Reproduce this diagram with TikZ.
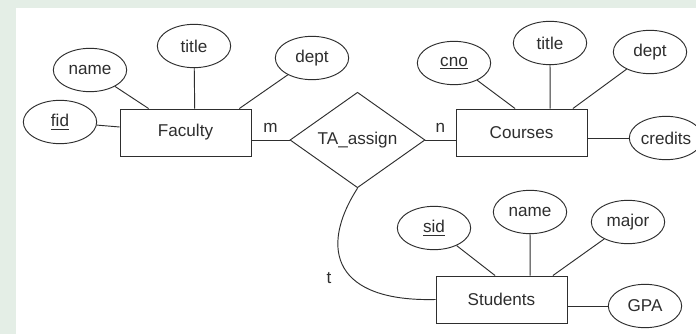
\documentclass[tikz,border=0pt]{standalone}
\usepackage{fontspec}
\setmainfont{Liberation Sans}
\usetikzlibrary{shapes.geometric}
\definecolor{bgstrip}{HTML}{E4EEE6}
\definecolor{ink}{HTML}{2E2E2E}
\tikzset{
    ent/.style={draw=ink, line width=0.8pt, minimum width=3.93cm, minimum height=1.41cm, inner sep=0pt},
    rel/.style={draw=ink, line width=0.8pt, diamond, minimum width=4.05cm, minimum height=2.34cm, inner sep=0pt},
    attr/.style={draw=ink, line width=0.8pt, ellipse, minimum width=2.2cm, minimum height=1.3cm, inner sep=0pt},
    lbl/.style={inner sep=0pt},
    er/.style={draw=ink, line width=0.8pt, font=\fontsize{14.6}{17}\selectfont, text=ink}
}
\begin{document}
\begin{tikzpicture}[x=0.03cm, y=-0.03cm, er]
        \fill[bgstrip] (0,0) rectangle (696,334);
        \fill[white] (16,8) rectangle (696,334);
        \useasboundingbox (0,0) rectangle (696,334);

        \node[ent] (fac) at (185.5,132.5) {Faculty};
        \node[ent] (crs) at (521.5,132.5) {Courses};
        \node[ent] (stu) at (501.5,299.5) {Students};
        \node[rel] (ta) at (357.5,140) {TA\_assign};

        \node[attr] (ffid) at (60,122) {\underline{fid}};
        \node[attr] (fname) at (90,70) {name};
        \node[attr] (ftitle) at (194,46) {title};
        \node[attr] (fdept) at (312,58) {dept};
        \node[attr] (ccno) at (454,63) {\underline{cno}};
        \node[attr] (ctitle) at (550,43) {title};
        \node[attr] (cdept) at (650,52) {dept};
        \node[attr] (ccred) at (666,138) {credits};
        \node[attr] (ssid) at (434,228) {\underline{sid}};
        \node[attr] (sname) at (530,212) {name};
        \node[attr] (smajor) at (628,222) {major};
        \node[attr] (sgpa) at (645,306) {GPA};

        \draw (ffid) -- (fac);
        \draw (fname) -- (fac.147);
        \draw (ftitle) -- (fac.69);
        \draw (fdept) -- (fac.24);
        \draw (ccno) -- (crs.105);
        \draw (ctitle) -- (crs.40);
        \draw (cdept) -- (crs.25);
        \draw (crs.east |- ccred) -- (ccred);
        \draw (ssid) -- (stu.105);
        \draw (sname) -- (stu.40);
        \draw (smajor) -- (stu.25);
        \draw (stu.east |- sgpa) -- (sgpa);

        \draw (fac.east |- ta.west) -- (ta.west) node[midway, above=3pt] {m};
        \draw (ta.east) -- (ta.east -| crs.west) node[midway, above=3pt] {n};
        \draw (ta.south) .. controls (318,250) and (335,302) .. (stu.west);
        \node[lbl] (tlab) at (329,278) {t};
    \end{tikzpicture}
\end{document}
